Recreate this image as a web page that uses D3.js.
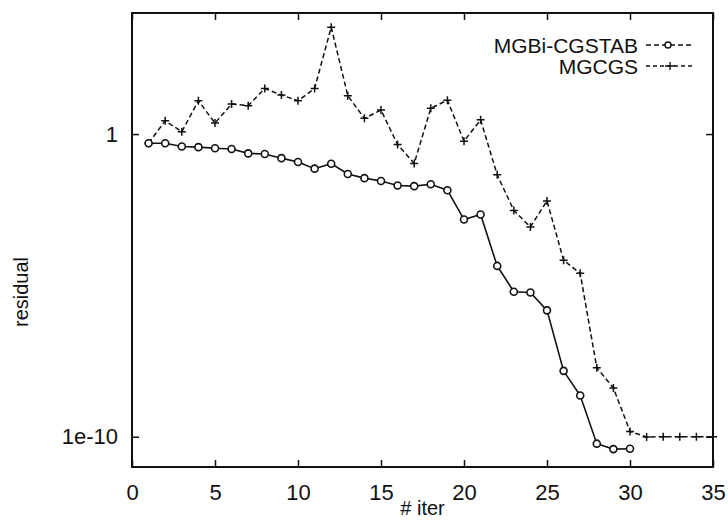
<!DOCTYPE html>
<html>
<head>
<meta charset="utf-8">
<script src="https://cdn.jsdelivr.net/npm/d3@7"></script>
<style>
  body { margin: 0; background: #fff; }
  svg { display: block; font-family: "Liberation Sans", Arial, sans-serif; }
</style>
</head>
<body>
<div id="visual"></div>
<script>
// iteration numbers
const itersBicg = d3.range(1, 31);
const itersCgs = d3.range(1, 36);

// residuals (log scale)
const residBicg = [0.50, 0.50, 0.39, 0.37, 0.34, 0.32, 0.23, 0.22, 0.16, 0.12,
  0.072, 0.105, 0.048, 0.035, 0.028, 0.020, 0.019, 0.022, 0.014, 1.5e-3,
  2.2e-3, 4.4e-5, 6.2e-6, 5.8e-6, 1.5e-6, 1.5e-8, 2.3e-9, 5.9e-11, 3.9e-11, 4.0e-11];
const residCgs = [0.50, 2.75, 1.2, 12.6, 2.3, 9.8, 8.7, 32, 19.5, 12.6,
  32, 3400, 18.6, 3.3, 6.2, 0.45, 0.107, 7.1, 13.2, 0.58,
  2.95, 0.045, 3.0e-3, 8.5e-4, 6.2e-3, 6.8e-5, 2.5e-5, 1.9e-8, 4.1e-9, 1.5e-10,
  9.8e-11, 1e-10, 1e-10, 1e-10, 1e-10];

const seriesNames = ["MGBi-CGSTAB", "MGCGS"];
const xTicks = [0, 5, 10, 15, 20, 25, 30, 35];
const yTicks = [1, 1e-10];
const yTickLabels = ["1", "1e-10"];

const W = 728, H = 520;
const margin = {top: 13, right: 15, bottom: 53, left: 132};
const width = W - margin.left - margin.right;
const height = H - margin.top - margin.bottom;

const svg = d3.select("#visual").append("svg")
  .attr("width", W).attr("height", H);
const g = svg.append("g")
  .attr("transform", "translate(" + margin.left + "," + margin.top + ")");

const x = d3.scaleLinear().domain([0, 35]).range([0, width]);
const y = d3.scaleLog().domain([1e-11, 1e4]).range([height, 0]);

const ink = "#111";

// frame
g.append("rect")
  .attr("width", width).attr("height", height)
  .attr("fill", "none").attr("stroke", ink).attr("stroke-width", 2);

// x axis (bottom, labels) and mirrored ticks on top
g.append("g")
  .attr("transform", "translate(0," + height + ")")
  .call(d3.axisBottom(x).tickValues(xTicks).tickSizeInner(-7).tickSizeOuter(0).tickPadding(17));
g.append("g")
  .call(d3.axisTop(x).tickValues(xTicks).tickSizeInner(-7).tickSizeOuter(0).tickFormat(""));

// y axis left with labels, right mirrored
g.append("g")
  .call(d3.axisLeft(y).tickValues(yTicks).tickSizeInner(-7).tickSizeOuter(0).tickPadding(14)
    .tickFormat((d, i) => yTickLabels[i]));
g.append("g")
  .attr("transform", "translate(" + width + ",0)")
  .call(d3.axisRight(y).tickValues(yTicks).tickSizeInner(-7).tickSizeOuter(0).tickFormat(""));

g.selectAll(".domain").remove();
g.selectAll(".tick line").attr("stroke", ink).attr("stroke-width", 1.5);
g.selectAll(".tick text").attr("fill", ink).style("font-size", "22px");

// axis titles
svg.append("text")
  .attr("x", margin.left + width / 2).attr("y", 515)
  .attr("text-anchor", "middle").attr("fill", ink).style("font-size", "20px")
  .text("# iter");
svg.append("text")
  .attr("transform", "translate(28,292) rotate(-90)")
  .attr("text-anchor", "middle").attr("fill", ink).style("font-size", "20px")
  .text("residual");

const line = d3.line().x(d => x(d[0])).y(d => y(d[1]));
const bicg = itersBicg.map((d, i) => [d, residBicg[i]]);
const cgs = itersCgs.map((d, i) => [d, residCgs[i]]);

// MGCGS dashed with plus markers
g.append("path").datum(cgs)
  .attr("d", line).attr("fill", "none")
  .attr("stroke", ink).attr("stroke-width", 1.5).attr("stroke-dasharray", "5,3");
g.selectAll("path.plus").data(cgs).enter().append("path")
  .attr("class", "plus")
  .attr("d", d => {
    const px = x(d[0]), py = y(d[1]);
    return `M${px - 4},${py}H${px + 4}M${px},${py - 4}V${py + 4}`;
  })
  .attr("stroke", ink).attr("stroke-width", 1.5);

// MGBi-CGSTAB solid with circle markers
g.append("path").datum(bicg)
  .attr("d", line).attr("fill", "none")
  .attr("stroke", ink).attr("stroke-width", 1.6);
g.selectAll("circle.bicg").data(bicg).enter().append("circle")
  .attr("class", "bicg")
  .attr("cx", d => x(d[0])).attr("cy", d => y(d[1]))
  .attr("r", 3.5).attr("fill", "#fff")
  .attr("stroke", ink).attr("stroke-width", 1.6);

// legend
const leg = svg.append("g");
const legY = [45, 66];
seriesNames.forEach((name, i) => {
  leg.append("text")
    .attr("x", 638).attr("y", legY[i] + 8)
    .attr("text-anchor", "end").attr("fill", ink).style("font-size", "21px")
    .text(name);
  leg.append("line")
    .attr("x1", 646).attr("x2", 692).attr("y1", legY[i]).attr("y2", legY[i])
    .attr("stroke", ink).attr("stroke-width", 1.3)
    .attr("stroke-dasharray", i === 0 ? "5,3" : "4,3");
});
leg.append("circle").attr("cx", 668).attr("cy", legY[0]).attr("r", 3)
  .attr("fill", "#fff").attr("stroke", ink).attr("stroke-width", 1.4);
leg.append("path")
  .attr("d", `M665,${legY[1]}H675M670,${legY[1] - 4}V${legY[1] + 4}`)
  .attr("stroke", ink).attr("stroke-width", 1.3);
</script>
</body>
</html>
